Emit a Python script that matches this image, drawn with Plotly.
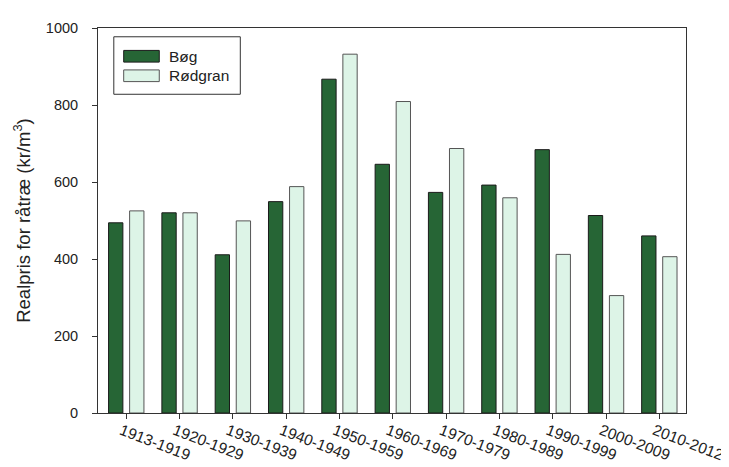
import plotly.graph_objects as go

periods = ["1913-1919", "1920-1929", "1930-1939", "1940-1949", "1950-1959",
           "1960-1969", "1970-1979", "1980-1989", "1990-1999", "2000-2009", "2010-2012"]
bog = [494, 520, 411, 549, 867, 646, 573, 592, 684, 513, 460]
rodgran = [525, 520, 499, 588, 932, 809, 687, 559, 412, 305, 406]
series_names = ["Bøg", "Rødgran"]
y_ticks = [0, 200, 400, 600, 800, 1000]

dark = "#266535"
light = "#ddf4e7"
font_family = "Liberation Sans, Arial, sans-serif"

fig = go.Figure()
fig.add_trace(go.Bar(x=list(range(len(periods))), y=bog, name=series_names[0],
                     marker=dict(color=dark, line=dict(color="#1a1a1a", width=1))))
fig.add_trace(go.Bar(x=list(range(len(periods))), y=rodgran, name=series_names[1],
                     marker=dict(color=light, line=dict(color="#555555", width=1))))

fig.update_layout(
    width=729, height=467,
    margin=dict(l=90, r=44, t=18, b=54),
    barmode="group", bargap=0.21, bargroupgap=0.32,
    plot_bgcolor="white", paper_bgcolor="white",
    showlegend=False,
    font=dict(family=font_family, size=14.5, color="#222222"),
)
fig.update_xaxes(
    range=[-0.53, 10.5],
    tickmode="array", tickvals=list(range(len(periods))), ticktext=periods,
    tickangle=21, ticks="outside", ticklen=5, tickcolor="#333333",
    showline=True, linecolor="#333333", linewidth=1, mirror=True,
    showgrid=False, zeroline=False,
    tickfont=dict(size=15.5),
    ticklabelshift=-5, ticklabelstandoff=-3,
)
fig.update_yaxes(
    range=[0, 1000], tickvals=y_ticks,
    ticks="outside", ticklen=5, tickcolor="#333333",
    showline=True, linecolor="#333333", linewidth=1, mirror=True,
    showgrid=False, zeroline=False,
    ticklabelstandoff=11,
    tickfont=dict(size=14.5),
    title=dict(text="Realpris for råtræ (kr/m<sup>3</sup>)", standoff=10,
               font=dict(size=18.5)),
)

# custom legend box
def px_x(p):
    return (p - 90) / (685 - 90)

def px_y(p):
    return (413 - p) / (413 - 18)

shapes = [
    dict(type="rect", xref="paper", yref="paper",
         x0=px_x(106), x1=px_x(234), y0=px_y(86), y1=px_y(27),
         line=dict(color="#333333", width=1), fillcolor="white"),
    dict(type="rect", xref="paper", yref="paper",
         x0=px_x(116), x1=px_x(152), y0=px_y(53), y1=px_y(41),
         line=dict(color="#1a1a1a", width=1), fillcolor=dark),
    dict(type="rect", xref="paper", yref="paper",
         x0=px_x(116), x1=px_x(152), y0=px_y(73), y1=px_y(61),
         line=dict(color="#555555", width=1), fillcolor=light),
]
annotations = [
    dict(text=series_names[0], xref="paper", yref="paper", x=px_x(160), y=px_y(47),
         xanchor="left", yanchor="middle", showarrow=False, font=dict(size=15.5)),
    dict(text=series_names[1], xref="paper", yref="paper", x=px_x(160), y=px_y(67),
         xanchor="left", yanchor="middle", showarrow=False, font=dict(size=15.5)),
]
fig.update_layout(shapes=shapes, annotations=annotations)

fig.write_html("out.html")
